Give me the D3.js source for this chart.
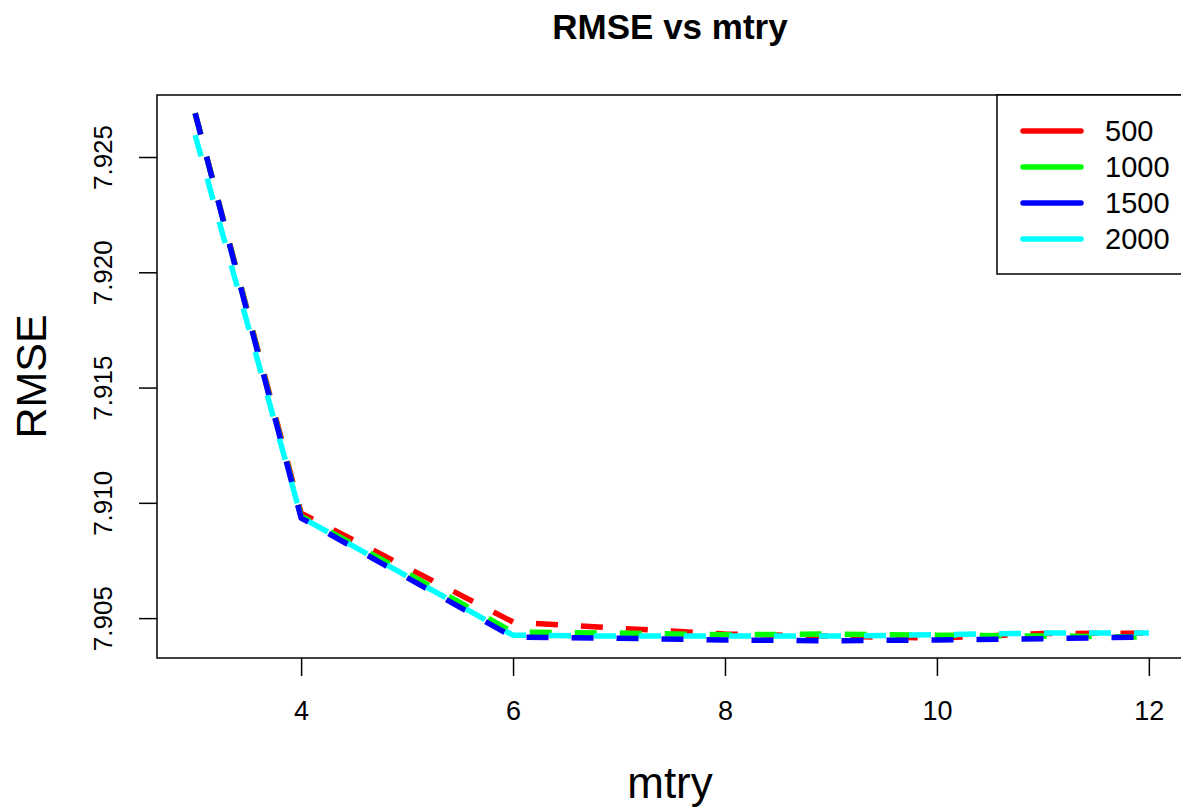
<!DOCTYPE html>
<html>
<head>
<meta charset="utf-8">
<script src="https://cdn.jsdelivr.net/npm/d3@7"></script>
<style>
  html, body { margin: 0; padding: 0; background: #fff; }
  svg { display: block; font-family: "Liberation Sans", Arial, sans-serif; }
</style>
</head>
<body>
<svg id="chart" width="1181" height="810"></svg>
<script>
// mtry values tried and the cross-validated RMSE for each forest size
const mtry = [3, 4, 5, 6, 7, 8, 9, 10, 11, 12];
const rmse500  = [7.92690, 7.90955, 7.90719, 7.90483, 7.90456, 7.90431, 7.90422, 7.90413, 7.90433, 7.90435];
const rmse1000 = [7.92690, 7.90942, 7.90695, 7.90439, 7.90435, 7.90428, 7.90431, 7.90426, 7.90422, 7.90418];
const rmse1500 = [7.92690, 7.90934, 7.90676, 7.90418, 7.90413, 7.90405, 7.90402, 7.90405, 7.90411, 7.90418];
const rmse2000 = [7.92595, 7.90938, 7.90682, 7.90426, 7.90422, 7.90422, 7.90422, 7.90428, 7.90435, 7.90435];

const seriesNames  = ["500", "1000", "1500", "2000"];
const seriesValues = [rmse500, rmse1000, rmse1500, rmse2000];
const seriesColors = ["#ff0000", "#00ff00", "#0000ff", "#00ffff"];

const xTicks = [4, 6, 8, 10, 12];
const yTicks = [7.905, 7.910, 7.915, 7.920, 7.925];

const svg = d3.select("#chart");

// plot region (right edge runs past the window)
const plotL = 157, plotR = 1187, plotT = 95, plotB = 658;

// axis limits padded 4% beyond the data, as in base graphics
const xPad = (d3.max(mtry) - d3.min(mtry)) * 0.04;
const x = d3.scaleLinear()
  .domain([d3.min(mtry) - xPad, d3.max(mtry) + xPad])
  .range([plotL, plotR]);
const y = d3.scaleLinear()
  .domain([7.90327, 7.92769])
  .range([plotB, plotT]);

// title
svg.append("text")
  .attr("x", 670).attr("y", 39)
  .attr("text-anchor", "middle")
  .attr("font-weight", "bold")
  .attr("font-size", 35)
  .text("RMSE vs mtry");

// series lines (dashed)
const line = d3.line()
  .x((d, i) => x(mtry[i]))
  .y(d => y(d));

const g = svg.append("g");
seriesValues.forEach((vals, k) => {
  g.append("path")
    .datum(vals)
    .attr("d", line)
    .attr("fill", "none")
    .attr("stroke", seriesColors[k])
    .attr("stroke-width", 5.5)
    .attr("stroke-dasharray", "22 23")
    .attr("stroke-linejoin", "round");
});

// plot frame
svg.append("rect")
  .attr("x", plotL).attr("y", plotT)
  .attr("width", plotR - plotL).attr("height", plotB - plotT)
  .attr("fill", "none").attr("stroke", "#000").attr("stroke-width", 1.5);

// x axis
const xAxis = svg.append("g")
  .attr("transform", `translate(0,${plotB})`)
  .call(d3.axisBottom(x).tickValues(xTicks).tickSize(18).tickPadding(25).tickFormat(d3.format("d")));
xAxis.select(".domain").remove();
xAxis.selectAll("line").attr("stroke", "#000").attr("stroke-width", 1.5);
xAxis.selectAll("text")
  .attr("font-size", 27).attr("fill", "#000")
  .attr("font-family", "Liberation Sans, Arial, sans-serif");

// y axis, labels parallel to the axis
const yAxis = svg.append("g")
  .attr("transform", `translate(${plotL},0)`)
  .call(d3.axisLeft(y).tickValues(yTicks).tickSize(18).tickFormat(d3.format(".3f")));
yAxis.select(".domain").remove();
yAxis.selectAll("line").attr("stroke", "#000").attr("stroke-width", 1.5);
yAxis.selectAll("text")
  .attr("font-size", 26).attr("fill", "#000")
  .attr("font-family", "Liberation Sans, Arial, sans-serif")
  .attr("x", null).attr("dy", null)
  .attr("text-anchor", "middle")
  .attr("transform", "translate(-52,0) rotate(-90)")
  .attr("dominant-baseline", "middle");

// axis titles
svg.append("text")
  .attr("x", 670).attr("y", 798)
  .attr("text-anchor", "middle")
  .attr("font-size", 44)
  .text("mtry");
svg.append("text")
  .attr("transform", `translate(46,${(plotT + plotB) / 2}) rotate(-90)`)
  .attr("text-anchor", "middle")
  .attr("font-size", 43)
  .text("RMSE");

// legend in the top-right corner
const legX = 997, legY = plotT, legW = plotR - legX, legH = 179;
const leg = svg.append("g");
leg.append("rect")
  .attr("x", legX).attr("y", legY)
  .attr("width", legW).attr("height", legH)
  .attr("fill", "#fff").attr("stroke", "#000").attr("stroke-width", 1.5);
const legRow = d3.scalePoint().domain(seriesNames).range([131, 239]);
seriesNames.forEach((name, k) => {
  leg.append("line")
    .attr("x1", 1023).attr("x2", 1081)
    .attr("y1", legRow(name)).attr("y2", legRow(name))
    .attr("stroke", seriesColors[k]).attr("stroke-width", 5.5)
    .attr("stroke-linecap", "round");
  leg.append("text")
    .attr("x", 1105).attr("y", legRow(name) + 2)
    .attr("dominant-baseline", "middle")
    .attr("font-size", 29)
    .text(name);
});
</script>
</body>
</html>
